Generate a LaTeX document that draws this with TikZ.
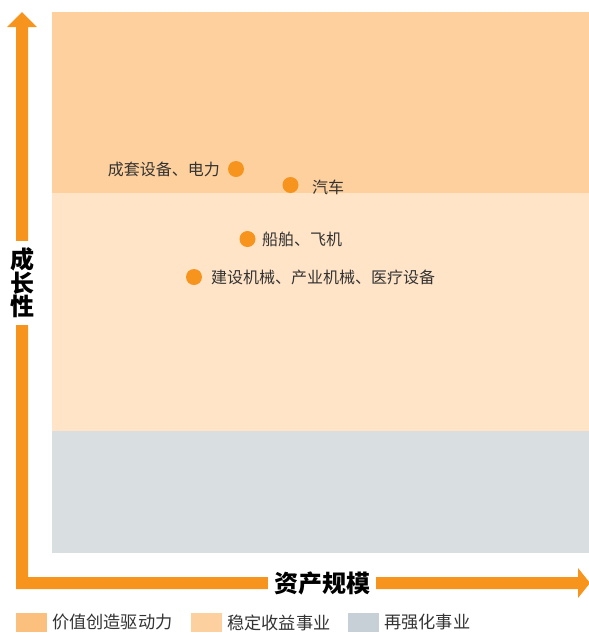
\documentclass[tikz,border=0pt]{standalone}
\usepackage{fontspec}
\setmainfont{Noto Sans CJK SC}
\definecolor{bandtop}{HTML}{FDD09D}
\definecolor{bandmid}{HTML}{FFE4C7}
\definecolor{bandlow}{HTML}{D9DEE1}
\definecolor{legA}{HTML}{FBBF7E}
\definecolor{legB}{HTML}{FDD19F}
\definecolor{legC}{HTML}{C8D0D7}
\definecolor{axisorange}{HTML}{F7941D}
\definecolor{txt}{HTML}{333333}
\tikzset{
  dot/.style={circle, fill=axisorange, minimum size=16pt, inner sep=0pt},
  lbl/.style={inner sep=0pt, text=txt, font=\fontsize{16}{18}\selectfont},
  axislbl/.style={fill=white, text=black, font=\bfseries\fontsize{24}{23}\selectfont, align=center},
  leglbl/.style={inner sep=0pt, text=txt, anchor=west, font=\fontsize{17.2}{19}\selectfont},
  swatch/.style={inner sep=0pt, minimum width=31pt, minimum height=19pt, anchor=west}
}
\begin{document}
\begin{tikzpicture}[x=1pt,y=-1pt]
\useasboundingbox (0,0) rectangle (589,633);
% bands
\fill[bandtop] (52,12) rectangle (589,193);
\fill[bandmid] (52,193) rectangle (589,431);
\fill[bandlow] (52,431) rectangle (589,553);
% axes (L-shaped double arrow)
\fill[axisorange] (16,27) -- (16,589) -- (578,589) -- (578,598) -- (590,583) -- (578,568)
  -- (578,577) -- (28,577) -- (28,27) -- (37,27) -- (22,12) -- (7,27) -- cycle;
\node[axislbl, inner xsep=1pt, inner ysep=7pt] (ylab) at (22,283) {成\\长\\性};
\node[axislbl, inner xsep=6pt, inner ysep=2pt] (xlab) at (322,583) {资产规模};
% dots and labels
\node[dot] (d1) at (236,169) {};
\node[lbl, anchor=east] (l1) at (220,169) {成套设备、电力};
\node[dot] (d2) at (290.5,185) {};
\node[lbl, anchor=west] (l2) at (312,187.5) {汽车};
\node[dot] (d3) at (247.5,239) {};
\node[lbl, anchor=west] (l3) at (262,239.5) {船舶、飞机};
\node[dot] (d4) at (194,277) {};
\node[lbl, anchor=west] (l4) at (211,277) {建设机械、产业机械、医疗设备};
% legend
\node[swatch, fill=legA] (s1) at (16,622) {};
\node[leglbl] (t1) at (52,622.5) {价值创造驱动力};
\node[swatch, fill=legB] (s2) at (191,622) {};
\node[leglbl] (t2) at (227,622.5) {稳定收益事业};
\node[swatch, fill=legC] (s3) at (348,622) {};
\node[leglbl] (t3) at (384,622.5) {再强化事业};
\end{tikzpicture}
\end{document}
